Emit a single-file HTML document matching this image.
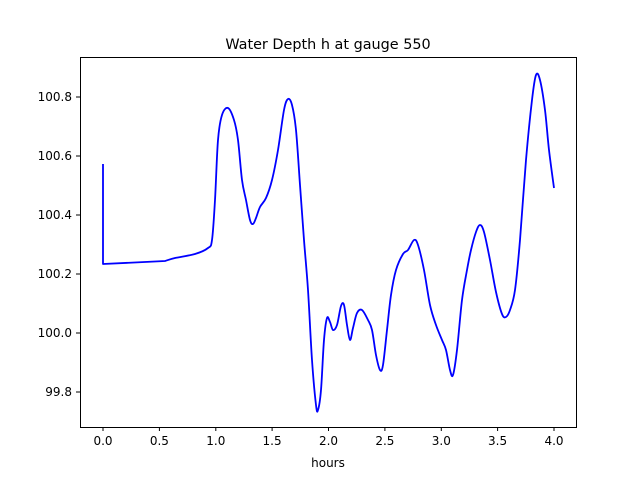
<!DOCTYPE html>
<html><head><style>body{margin:0;background:#fff}svg{display:block}text{font-family:"DejaVu Sans","Liberation Sans",sans-serif;fill:#000}</style></head>
<body>
<svg width="640" height="480" viewBox="0 0 640 480">
<rect x="0" y="0" width="640" height="480" fill="#fff"/>
<text x="328" y="49" font-size="14.4" text-anchor="middle">Water Depth h at gauge 550</text>
<polyline id="pl" fill="none" stroke="#0000ff" stroke-width="1.8" stroke-linejoin="round" points="103,164 103,264 165,261 175,258 195,254 208,248 212,240 215,200 218,140 222,115 228,108 234,120 238,140 242,180 246,200 250,220 253,224 256,218 260,207 266,198 272,180 278,150 284,110 288,99 292,105 296,130 300,185 304,240 308,290 312,360 316,405 318,410 321,390 324,340 327,318 330,322 333,330 337,325 341,306 344,305 347,325 350,340 353,328 357,313 362,310 368,320 372,330 376,355 380,370 383,365 387,330 391,295 396,270 403,254 408,250 414,240 418,245 424,270 430,305 436,325 442,340 446,350 450,370 453,375 457,350 462,300 467,270 471,250 476,232 480,225 484,232 490,260 496,292 502,314 506,317 510,310 515,290 520,240 526,160 532,100 536,75 540,80 545,110 549,150 554,188"/>
<path id="sp" fill="none" stroke="#0000ff" stroke-width="1.8" stroke-linejoin="round" d=""/>
<rect x="80.5" y="57.5" width="496" height="370" fill="none" stroke="#000" stroke-width="1"/>
<g stroke="#000" stroke-width="1">
<line x1="103" y1="427" x2="103" y2="431"/><line x1="159.4" y1="427" x2="159.4" y2="431"/><line x1="215.8" y1="427" x2="215.8" y2="431"/><line x1="272.1" y1="427" x2="272.1" y2="431"/><line x1="328.5" y1="427" x2="328.5" y2="431"/><line x1="384.9" y1="427" x2="384.9" y2="431"/><line x1="441.3" y1="427" x2="441.3" y2="431"/><line x1="497.6" y1="427" x2="497.6" y2="431"/><line x1="554" y1="427" x2="554" y2="431"/>
<line x1="76" y1="97" x2="80" y2="97"/><line x1="76" y1="156" x2="80" y2="156"/><line x1="76" y1="215" x2="80" y2="215"/><line x1="76" y1="274" x2="80" y2="274"/><line x1="76" y1="333" x2="80" y2="333"/><line x1="76" y1="392" x2="80" y2="392"/>
</g>
<g font-size="12" text-anchor="middle">
<text x="103" y="445">0.0</text><text x="159.4" y="445">0.5</text><text x="215.8" y="445">1.0</text><text x="272.1" y="445">1.5</text><text x="328.5" y="445">2.0</text><text x="384.9" y="445">2.5</text><text x="441.3" y="445">3.0</text><text x="497.6" y="445">3.5</text><text x="554" y="445">4.0</text>
<text x="328" y="467">hours</text>
</g>
<g font-size="12" text-anchor="end">
<text x="72" y="101">100.8</text><text x="72" y="160">100.6</text><text x="72" y="219">100.4</text><text x="72" y="278">100.2</text><text x="72" y="337">100.0</text><text x="72" y="396">99.8</text>
</g>
</svg>
<script>
(function(){
var pl=document.getElementById('pl');
var p=pl.getAttribute('points').trim().split(/\s+/).map(function(s){return s.split(',').map(Number);});
var d='M'+p[0][0]+','+p[0][1]+' L'+p[1][0]+','+p[1][1]+' L'+p[2][0]+','+p[2][1];
for(var i=2;i<p.length-1;i++){
var p0=p[i-1],p1=p[i],p2=p[i+1],p3=p[Math.min(i+2,p.length-1)];
if(i==2)p0=p[2];
var c1=[p1[0]+(p2[0]-p0[0])/6,p1[1]+(p2[1]-p0[1])/6];
var c2=[p2[0]-(p3[0]-p1[0])/6,p2[1]-(p3[1]-p1[1])/6];
d+=' C'+c1[0].toFixed(2)+','+c1[1].toFixed(2)+' '+c2[0].toFixed(2)+','+c2[1].toFixed(2)+' '+p2[0]+','+p2[1];
}
document.getElementById('sp').setAttribute('d',d);
pl.style.display='none';
})();
</script>
</body></html>
